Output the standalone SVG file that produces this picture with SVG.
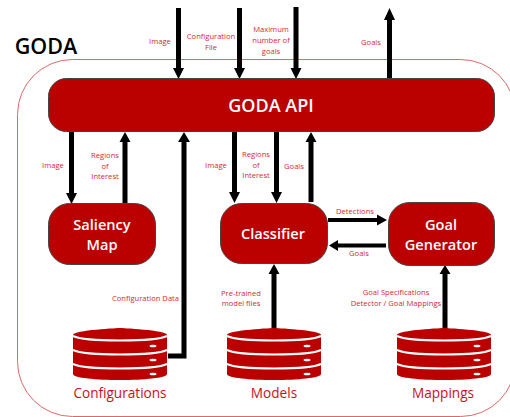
<svg xmlns="http://www.w3.org/2000/svg" width="510" height="417" viewBox="0 0 510 417">
<style>
text{font-family:"Open Sans","Liberation Sans",sans-serif;text-anchor:middle}
.l{font-size:7.6px;fill:#d42a32}
.n{fill:#bb0000;stroke:#444;stroke-width:1}
.t{font-size:14.600px;font-weight:600;fill:#fff}
.d{font-size:13.600px;fill:#c8101c}
.a{fill:none;stroke:#000;stroke-width:5}
.h{fill:#000}
.w{fill:none;stroke:#fff;stroke-width:2}
.c{fill:#bb0000}
</style>
<defs>
<g id="db">
<path class="c" d="M0 7C0 2 47 0 47 0S94 2 94 7V46C94 50 70 52 47 52S0 50 0 46Z"/>
<path class="w" d="M0 8C12 14 82 14 94 8M0 22C12 28 82 28 94 22M0 36C12 42 82 42 94 36"/>
<ellipse cx="80" cy="18" rx="3.500" ry="1.300" fill="#fff"/>
<ellipse cx="80" cy="32" rx="3.500" ry="1.300" fill="#fff"/>
<ellipse cx="80" cy="46" rx="3.500" ry="1.300" fill="#fff"/>
</g>
</defs>
<rect x="17.500" y="59.500" width="498" height="357" rx="55" fill="none" stroke="#d96a6a" stroke-width="1"/>
<text x="46" y="54" style="font-size:21.500px;font-weight:600;fill:#000">GODA</text>
<g id="connectors">
<path class="a" d="M178.500 8V70M239.500 8V70M296 7V70M389.500 78V18M71.500 132V195M125 203V141M234.500 132V194M276.500 132V194M311 202V141M184 141V356H168M274 334V273M445 333V273"/>
<path d="M328 220H378M386 245.500H337" fill="none" stroke="#000" stroke-width="4"/>
<path class="h" d="M173 68H184L178.500 79ZM234 68H245L239.500 79ZM290.500 68H301.500L296 79ZM384 20H395L389.500 8ZM66 193H77L71.500 204ZM119.500 142H130.500L125 132ZM229 192H240L234.500 203ZM271 192H282L276.500 203ZM305.500 142H316.500L311 132ZM178 142H190L184 132ZM268.500 274H279.500L274 264ZM439.500 274H450.500L445 265ZM377 214.500V225.500L387 220ZM338 240V251L329 245.500Z"/>
</g>
<g id="labels">
<text class="l" x="160" y="44">Image</text>
<text class="l" x="211" y="39">Configuration</text><text class="l" x="211" y="50">File</text>
<text class="l" x="271" y="32">Maximum</text><text class="l" x="271" y="43">number of</text><text class="l" x="271" y="54">goals</text>
<text class="l" x="371" y="45">Goals</text>
<text class="l" x="53" y="168">Image</text>
<text class="l" x="105" y="158">Regions</text><text class="l" x="105" y="169">of</text><text class="l" x="105" y="179">Interest</text>
<text class="l" x="216" y="168">Image</text>
<text class="l" x="256" y="157">Regions</text><text class="l" x="256" y="168">of</text><text class="l" x="256" y="178">Interest</text>
<text class="l" x="294" y="169">Goals</text>
<text class="l" x="145.500" y="301">Configuration Data</text>
<text class="l" x="241" y="296">Pre-trained</text><text class="l" x="241" y="306">model files</text>
<text class="l" x="355" y="214">Detections</text>
<text class="l" x="359" y="256">Goals</text>
<text class="l" x="396" y="295">Goal Specifications</text><text class="l" x="396" y="306">Detector / Goal Mappings</text>
</g>
<g id="api"><rect class="n" x="48.500" y="78.500" width="446" height="53" rx="18"/><text class="t" x="271" y="112" style="font-size:18px">GODA API</text></g>
<g id="saliency"><rect class="n" x="48.500" y="203.500" width="107" height="61" rx="21"/><text class="t" x="102" y="230">Saliency</text><text class="t" x="102" y="250">Map</text></g>
<g id="classifier"><rect class="n" x="220.500" y="203.500" width="107" height="60" rx="21"/><text class="t" x="273" y="239">Classifier</text></g>
<g id="goal"><rect class="n" x="388.500" y="202.500" width="106" height="63" rx="21"/><text class="t" x="441" y="230">Goal</text><text class="t" x="441" y="250">Generator</text></g>
<g id="configurations"><use href="#db" x="73" y="328"/><text class="d" x="120" y="398">Configurations</text></g>
<g id="models"><use href="#db" x="227" y="328"/><text class="d" x="274" y="398">Models</text></g>
<g id="mappings"><use href="#db" x="397" y="328"/><text class="d" x="443" y="398">Mappings</text></g>
</svg>
